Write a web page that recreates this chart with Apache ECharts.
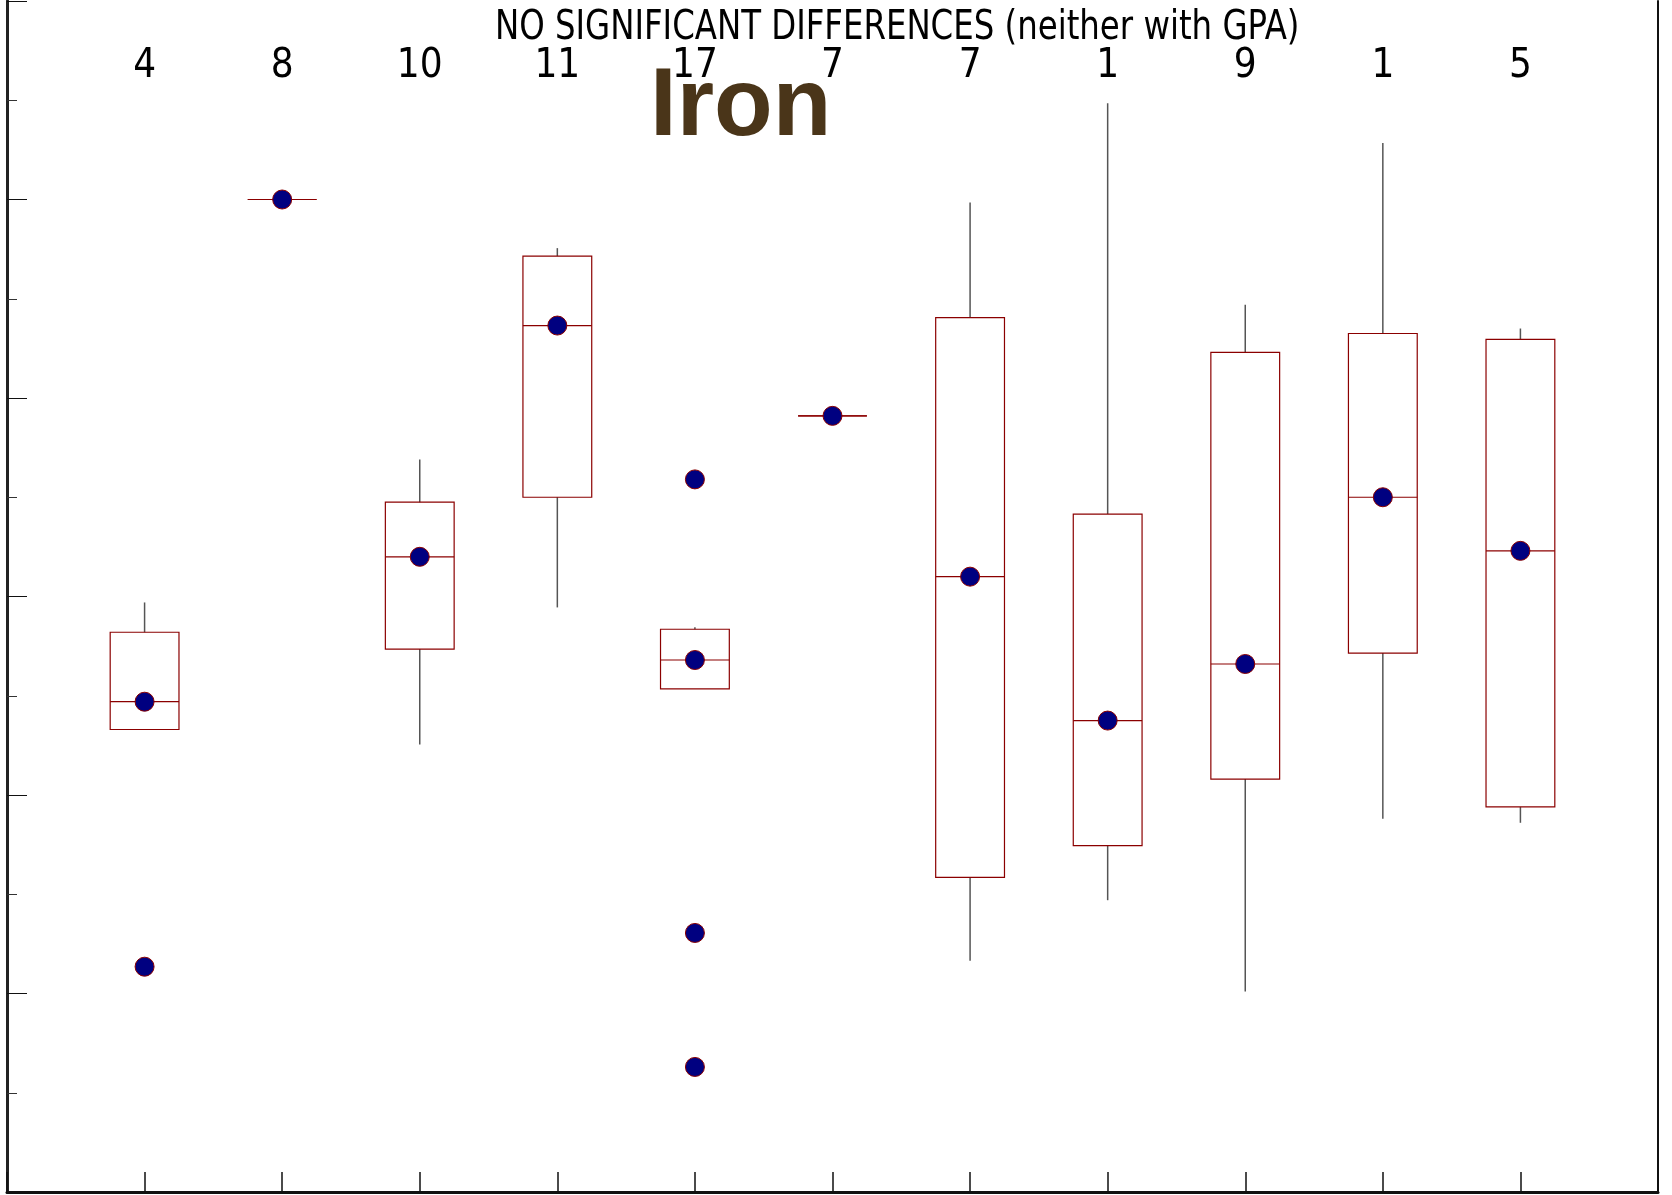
<!DOCTYPE html>
<html>
<head>
<meta charset="utf-8">
<script src="https://cdn.jsdelivr.net/npm/echarts@6/dist/echarts.min.js"></script>
<style>
html,body{margin:0;padding:0;background:#fff;}
#chart{width:1672px;height:1195px;}
</style>
</head>
<body>
<div id="chart"></div>
<script>
// Counts shown on top of each group
const countLabels = ['4', '8', '10', '11', '17', '7', '7', '1', '9', '1', '5'];
// Positions of groups on the x axis (0 and 12 are empty padding slots)
const groupIndex = [1, 2, 3, 4, 5, 6, 7, 8, 9, 10, 11];
// Box statistics (y units: minor tick = 1)
const whiskerLow  = [4.66, 10.0, 4.51, 5.89, 5.07, 7.82, 2.33, 2.94, 2.02, 3.76, 3.72];
const q1          = [4.66, 10.0, 5.47, 7.00, 5.07, 7.82, 3.17, 3.49, 4.16, 5.43, 3.88];
const median      = [4.94, 10.0, 6.40, 8.73, 5.36, 7.82, 6.20, 4.75, 5.32, 7.00, 6.46];
const q3          = [5.64, 10.0, 6.95, 9.43, 5.67, 7.82, 8.81, 6.83, 8.46, 8.65, 8.59];
const whiskerHigh = [5.94, 10.0, 7.38, 9.51, 5.69, 7.82, 9.97, 10.97, 8.94, 10.57, 8.70];
// Outlier points (group index, value)
const outlierX = [1, 5, 5, 5];
const outlierY = [2.27, 7.18, 2.61, 1.26];

const titleText = 'NO SIGNIFICANT DIFFERENCES (neither with GPA)';
const subjectText = 'Iron';

const axisSlots = ['', ...countLabels, ''];
const boxData = groupIndex.map((g, i) => [g, whiskerLow[i], q1[i], median[i], q3[i], whiskerHigh[i]]);
const dotData = groupIndex.map((g, i) => [g, median[i]]).concat(outlierX.map((g, i) => [g, outlierY[i]]));

const chart = echarts.init(document.getElementById('chart'));
const narrow = '"Liberation Sans Narrow", "DejaVu Sans Condensed", "Liberation Sans", sans-serif';

chart.setOption({
  animation: false,
  backgroundColor: '#fff',
  grid: { left: 7, right: 14, top: 1, bottom: 3, containLabel: false },
  graphic: [
    { type: 'text', x: 495, y: 9, scaleX: 0.9, style: { text: titleText, font: '40px ' + narrow, fill: '#000' } },
    { type: 'text', x: 650, y: 61, style: { text: subjectText, font: 'bold 96px "Liberation Sans", Arial, sans-serif', fill: '#4a3519' } }
  ],
  xAxis: [
    {
      type: 'category', boundaryGap: false, data: axisSlots, position: 'bottom',
      axisLine: { lineStyle: { color: '#111', width: 3 } },
      axisTick: { inside: true, length: 20, interval: 0, lineStyle: { color: '#111', width: 1.5 } },
      axisLabel: { show: false }, splitLine: { show: false }
    },
    {
      type: 'category', boundaryGap: false, data: axisSlots, position: 'top',
      axisLine: { lineStyle: { color: '#111', width: 2 } },
      axisTick: { show: false },
      axisLabel: { inside: true, interval: 0, margin: 66, verticalAlign: 'middle', fontSize: 40, fontFamily: narrow, color: '#000' },
      splitLine: { show: false }
    }
  ],
  yAxis: [
    {
      type: 'value', min: 0, max: 12, interval: 2, position: 'left',
      axisLine: { show: true, lineStyle: { color: '#222', width: 3 } },
      axisTick: { show: true, inside: true, length: 20, lineStyle: { color: '#111', width: 1 } },
      minorTick: { show: true, splitNumber: 2, length: 10, lineStyle: { color: '#333', width: 1 } },
      axisLabel: { show: false }, splitLine: { show: false }
    },
    {
      type: 'value', min: 0, max: 12, position: 'right',
      axisLine: { show: true, lineStyle: { color: '#111', width: 2 } },
      axisTick: { show: false }, axisLabel: { show: false }, splitLine: { show: false }
    }
  ],
  series: [
    {
      type: 'custom',
      xAxisIndex: 0, yAxisIndex: 0,
      data: boxData,
      renderItem: function (params, api) {
        const x = api.value(0);
        const pLow = api.coord([x, api.value(1)]);
        const pQ1 = api.coord([x, api.value(2)]);
        const pMed = api.coord([x, api.value(3)]);
        const pQ3 = api.coord([x, api.value(4)]);
        const pHigh = api.coord([x, api.value(5)]);
        const w = api.size([1, 0])[0] * 0.5;
        const cx = pMed[0];
        const boxStroke = { stroke: '#8b0000', lineWidth: 1.2, fill: null };
        return {
          type: 'group',
          children: [
            { type: 'line', shape: { x1: cx, y1: pQ3[1], x2: cx, y2: pHigh[1] }, style: { stroke: '#555', lineWidth: 1.5 } },
            { type: 'line', shape: { x1: cx, y1: pQ1[1], x2: cx, y2: pLow[1] }, style: { stroke: '#555', lineWidth: 1.5 } },
            { type: 'rect', shape: { x: cx - w / 2, y: pQ3[1], width: w, height: pQ1[1] - pQ3[1] }, style: boxStroke },
            { type: 'line', shape: { x1: cx - w / 2, y1: pMed[1], x2: cx + w / 2, y2: pMed[1] }, style: { stroke: '#8b0000', lineWidth: 1.2 } }
          ]
        };
      },
      z: 2
    },
    {
      type: 'scatter',
      xAxisIndex: 0, yAxisIndex: 0,
      data: dotData,
      symbol: 'circle', symbolSize: 19,
      itemStyle: { color: '#000080', borderColor: '#8b0000', borderWidth: 1, opacity: 1 },
      z: 3
    }
  ]
});
</script>
</body>
</html>
